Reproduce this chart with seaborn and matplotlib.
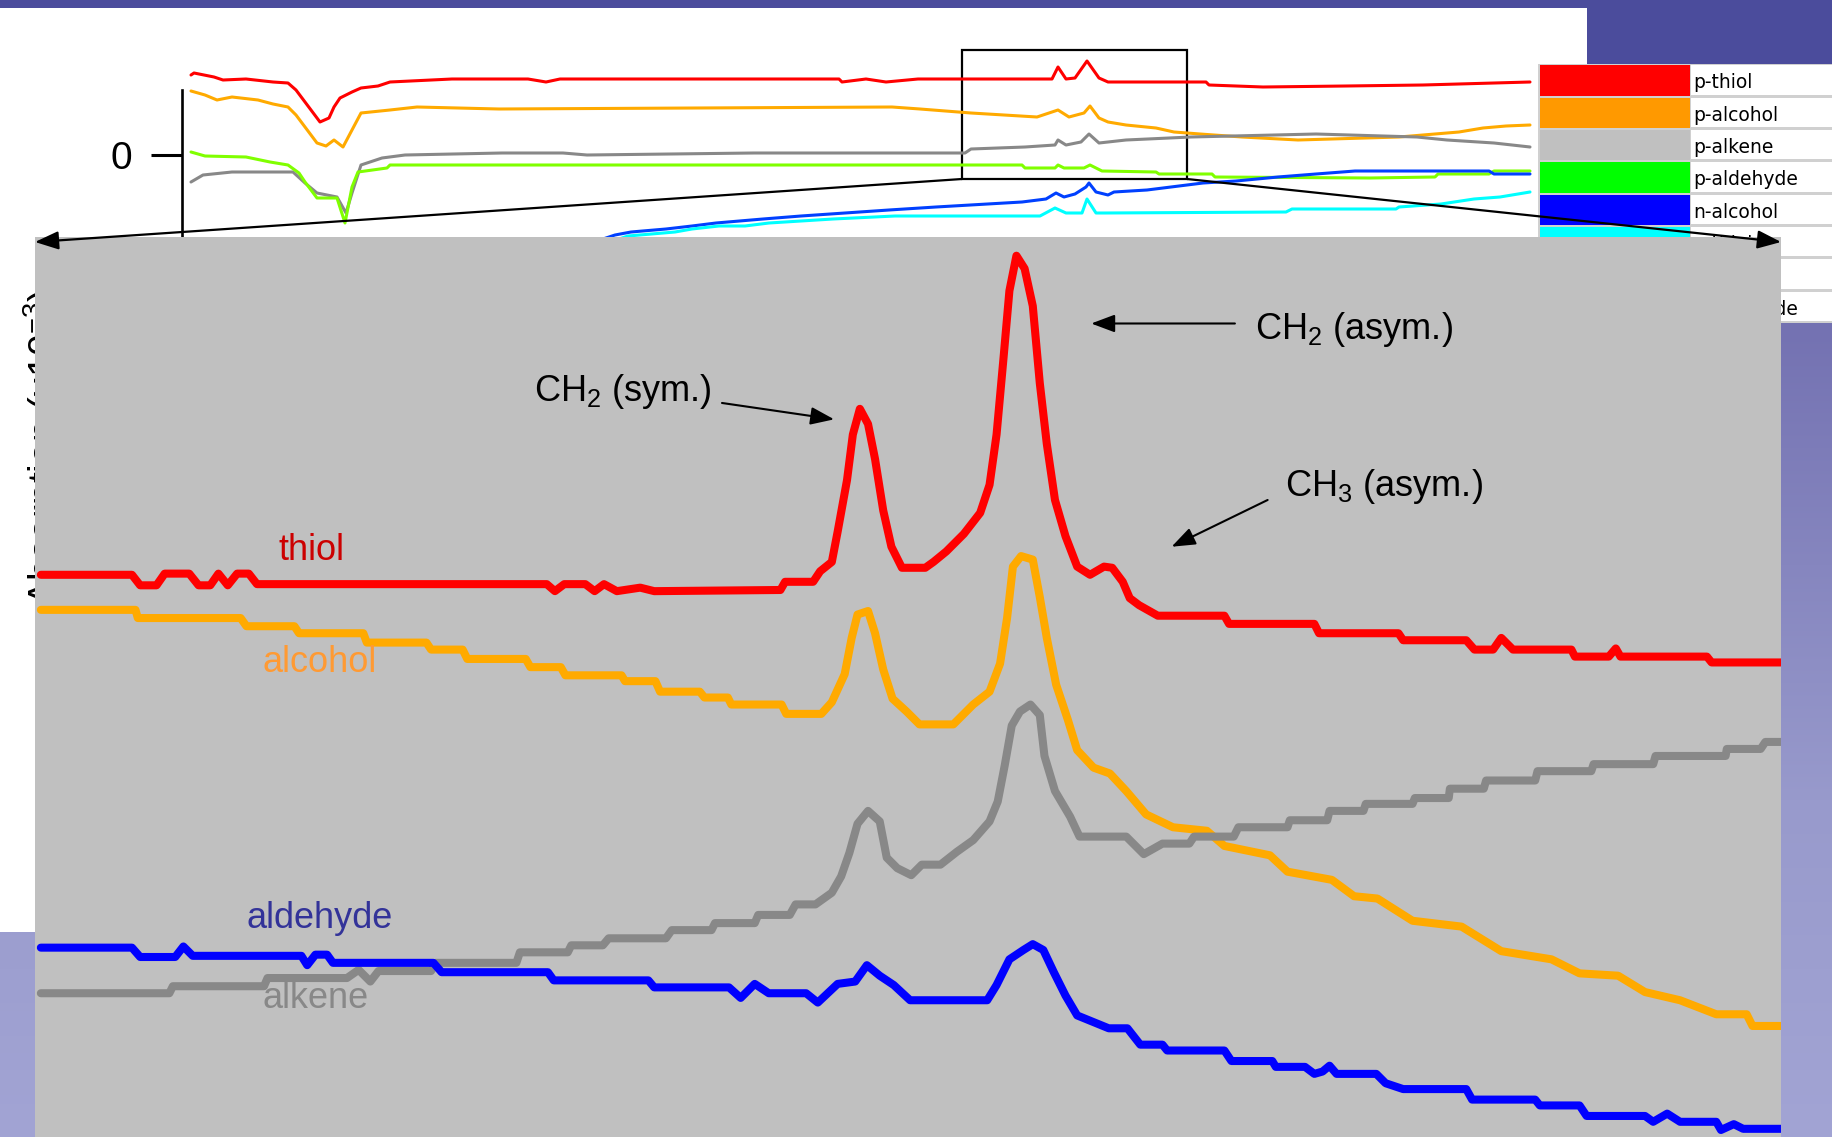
import numpy as np
import pandas as pd
import matplotlib
matplotlib.use("Agg")
import matplotlib.pyplot as plt
from matplotlib.patches import Rectangle, ConnectionPatch
import seaborn as sns

# ---- zoomed spectra, 2500-3250 cm-1 (absorbance, x10^-3, offset) ----
thiol_wn = [2502.5, 2541.5, 2545, 2552, 2555.5, 2566, 2570, 2575, 2578.5, 2582.5, 2586.5, 2591.5, 2595,
            2719, 2722.5, 2726.5, 2735.5, 2739.5, 2743.5, 2749, 2759, 2765, 2819, 2821, 2833, 2836, 2841,
            2843.5, 2847.5, 2850, 2853, 2856.5, 2859.5, 2863, 2866.5, 2871, 2881, 2884.5, 2890, 2897.5,
            2904.5, 2908.5, 2911.5, 2914.5, 2917, 2920, 2923.5, 2927, 2930, 2933, 2936.5, 2941, 2946,
            2951.5, 2957.5, 2961, 2965.5, 2968.5, 2972.5, 2980.5, 3009, 3011, 3047.5, 3049.5, 3083.5,
            3085.5, 3112.5, 3116, 3124, 3127.5, 3132.5, 3157.5, 3159, 3173.5, 3176.5, 3178.5, 3215.5,
            3217.5, 3247.5]
thiol_abs = [4.81, 4.81, 4.72, 4.72, 4.82, 4.82, 4.72, 4.72, 4.82, 4.72, 4.82, 4.82, 4.73,
             4.73, 4.67, 4.73, 4.73, 4.67, 4.73, 4.67, 4.70, 4.67, 4.68, 4.75, 4.75, 4.84, 4.92,
             5.18, 5.62, 6.01, 6.23, 6.10, 5.80, 5.36, 5.05, 4.87, 4.87, 4.92, 5.01, 5.16,
             5.34, 5.58, 6.01, 6.67, 7.24, 7.54, 7.43, 7.11, 6.45, 5.93, 5.45, 5.14, 4.88,
             4.81, 4.88, 4.87, 4.75, 4.61, 4.55, 4.46, 4.46, 4.39, 4.39, 4.31, 4.31,
             4.25, 4.25, 4.17, 4.17, 4.27, 4.17, 4.17, 4.11, 4.11, 4.18, 4.11, 4.11,
             4.06, 4.06]

alcohol_wn = [2502.5, 2543, 2544, 2588, 2590.5, 2611, 2613, 2640.5, 2642, 2667.5, 2669.5, 2683, 2685,
              2710, 2712, 2725, 2727, 2751, 2752.5, 2765.5, 2767.5, 2784.5, 2786.5, 2796.5, 2798,
              2819.5, 2821.5, 2836.5, 2841, 2846.5, 2849.5, 2852, 2856.5, 2859.5, 2863, 2867, 2873,
              2878.5, 2893, 2901.5, 2908.5, 2913, 2916, 2918.5, 2922, 2927, 2930, 2933, 2937, 2942,
              2946, 2953, 2960, 2967, 2975.5, 2987, 3001.5, 3009, 3028.5, 3036, 3055, 3064.5, 3074.5,
              3089.5, 3110.5, 3127.5, 3149, 3161, 3177.5, 3189, 3204, 3219.5, 3232.5, 3235, 3247.5]
alcohol_abs = [4.51, 4.51, 4.44, 4.44, 4.37, 4.37, 4.31, 4.31, 4.23, 4.23, 4.17, 4.17, 4.09,
               4.09, 4.02, 4.02, 3.95, 3.95, 3.90, 3.90, 3.81, 3.81, 3.76, 3.76, 3.70,
               3.70, 3.62, 3.62, 3.72, 3.96, 4.27, 4.47, 4.50, 4.31, 4.00, 3.75, 3.64,
               3.53, 3.53, 3.70, 3.81, 4.05, 4.44, 4.88, 4.97, 4.94, 4.62, 4.27, 3.87, 3.57,
               3.31, 3.16, 3.11, 2.96, 2.76, 2.65, 2.62, 2.49, 2.41, 2.27, 2.20, 2.06, 2.04,
               1.85, 1.80, 1.59, 1.52, 1.40, 1.38, 1.24, 1.17, 1.05, 1.05, 0.95, 0.95]

alkene_wn = [2502.5, 2557.5, 2559, 2598, 2599.5, 2633.5, 2638.5, 2643.5, 2647, 2669.5, 2671.5, 2706,
             2707.5, 2728, 2729.5, 2743, 2745.5, 2770, 2772.5, 2789.5, 2791, 2808, 2809.5, 2823,
             2825.5, 2834, 2841, 2845, 2848.5, 2852, 2856.5, 2861.5, 2864.5, 2869, 2875, 2879.5,
             2887.5, 2894.5, 2901.5, 2908.5, 2912, 2915, 2918, 2921.5, 2926, 2930, 2932, 2936.5,
             2943, 2947, 2967, 2974.5, 2982.5, 2994, 2996, 3013, 3015, 3036, 3037, 3053, 3054,
             3068.5, 3069.5, 3089.5, 3090.5, 3105, 3105.5, 3120, 3121, 3142, 3143, 3166, 3167,
             3192.5, 3193.5, 3223.5, 3224, 3238.5, 3240.5, 3247.5]
alkene_abs = [1.23, 1.23, 1.29, 1.29, 1.36, 1.36, 1.43, 1.33, 1.42, 1.42, 1.49, 1.49,
              1.58, 1.58, 1.64, 1.64, 1.70, 1.70, 1.77, 1.77, 1.83, 1.83, 1.90, 1.90,
              1.99, 1.99, 2.09, 2.23, 2.43, 2.68, 2.79, 2.70, 2.39, 2.30, 2.24, 2.33,
              2.33, 2.44, 2.54, 2.70, 2.87, 3.18, 3.52, 3.64, 3.70, 3.61, 3.26, 2.96,
              2.74, 2.57, 2.57, 2.42, 2.51, 2.51, 2.57, 2.57, 2.65, 2.65, 2.71, 2.71, 2.79,
              2.79, 2.85, 2.85, 2.90, 2.90, 2.98, 2.98, 3.05, 3.05, 3.13, 3.13, 3.19,
              3.19, 3.26, 3.26, 3.32, 3.32, 3.38, 3.38]

aldehyde_wn = [2502.5, 2541.5, 2545, 2560, 2563.5, 2567.5, 2614, 2616.5, 2620, 2625, 2627.5, 2670.5,
               2674, 2719.5, 2722, 2762.5, 2765, 2797, 2802, 2808, 2814, 2830, 2835, 2843.5, 2851,
               2856, 2861.5, 2867.5, 2874.5, 2907.5, 2911.5, 2917, 2923, 2927, 2931.5, 2936, 2941,
               2946, 2959.5, 2967.5, 2973, 2982.5, 2984.5, 3009, 3012, 3029.5, 3031, 3043.5, 3047.5,
               3051, 3054, 3057, 3074, 3078, 3085.5, 3112.5, 3115, 3142, 3144, 3161, 3164, 3189,
               3192.5, 3198.5, 3204, 3219.5, 3221.5, 3227, 3231, 3247.5]
aldehyde_abs = [1.62, 1.62, 1.54, 1.54, 1.63, 1.55, 1.55, 1.47, 1.56, 1.56, 1.49, 1.49,
                1.41, 1.41, 1.34, 1.34, 1.28, 1.28, 1.19, 1.31, 1.23, 1.23, 1.15, 1.31, 1.33,
                1.47, 1.38, 1.30, 1.17, 1.17, 1.30, 1.52, 1.60, 1.65, 1.60, 1.41, 1.21,
                1.04, 0.93, 0.93, 0.79, 0.79, 0.74, 0.74, 0.65, 0.65, 0.60, 0.60, 0.54,
                0.56, 0.61, 0.54, 0.54, 0.46, 0.41, 0.41, 0.32, 0.32, 0.27, 0.27, 0.18, 0.18,
                0.13, 0.20, 0.13, 0.13, 0.06, 0.11, 0.07, 0.07]

spectra_names = ["thiol", "alcohol", "alkene", "aldehyde"]
spectra_colors = ["#FF0000", "#FFAA00", "#888888", "#0000FF"]
label_colors = ["#CC0000", "#FF9A33", "#888888", "#333399"]

# ---- overview traces (scan point, signal) ----
ov_thiol_pt = [9, 12, 32, 41, 64, 91, 106, 114, 120, 129, 138, 147, 152, 158, 170, 179, 196, 208, 270, 346,
               364, 378, 657, 660, 684, 704, 736, 870, 876, 884, 893, 905, 917, 926, 1024, 1027, 1081,
               1164, 1241, 1348]
ov_thiol_sig = [8.0, 8.2, 7.8, 7.5, 7.6, 7.3, 7.2, 6.5, 5.7, 4.5, 3.3, 3.7, 4.8, 5.7, 6.3, 6.7, 6.9, 7.3, 7.6, 7.6,
                7.3, 7.6, 7.6, 7.3, 7.6, 7.3, 7.6, 7.6, 8.8, 7.6, 7.7, 9.4, 7.7, 7.3, 7.3, 7.0, 6.8,
                6.9, 7.0, 7.3]
ov_alcohol_pt = [9, 23, 35, 50, 76, 91, 106, 114, 123, 135, 144, 152, 161, 170, 179, 208, 235, 317, 710, 738,
                 789, 855, 876, 887, 902, 908, 917, 926, 944, 974, 992, 1018, 1060, 1116, 1217, 1241,
                 1277, 1301, 1324, 1348]
ov_alcohol_sig = [6.4, 6.0, 5.5, 5.8, 5.5, 5.1, 4.8, 4.0, 2.8, 1.2, 0.9, 1.5, 0.8, 2.5, 4.2, 4.5, 4.8, 4.6, 4.8, 4.6,
                  4.2, 3.8, 4.5, 3.8, 4.2, 4.9, 3.7, 3.3, 3.0, 2.7, 2.3, 2.1, 1.8, 1.5, 1.8, 2.0,
                  2.3, 2.7, 2.9, 3.0]
ov_alkene_pt = [9, 21, 50, 111, 123, 135, 155, 164, 170, 179, 200, 223, 320, 381, 405, 572, 738, 783, 789,
                843, 873, 876, 884, 899, 907, 917, 944, 1009, 1134, 1235, 1265, 1312, 1348]
ov_alkene_sig = [-2.7, -2.0, -1.7, -1.7, -2.8, -3.8, -4.2, -5.8, -3.8, -1.0, -0.3, 0.0, 0.2, 0.2, 0.0, 0.2, 0.2,
                 0.2, 0.6, 0.8, 1.0, 1.5, 1.0, 1.3, 2.1, 1.2, 1.5, 1.8, 2.1, 1.8, 1.5, 1.2, 0.8]
ov_aldehyde_pt = [9, 23, 64, 88, 106, 117, 123, 135, 155, 163, 170, 176, 205, 208, 840, 843, 873, 876, 882,
                  902, 908, 920, 974, 977, 1030, 1033, 1188, 1253, 1256, 1307, 1312, 1348]
ov_aldehyde_sig = [0.3, -0.1, -0.2, -0.7, -1.0, -1.8, -2.7, -4.3, -4.3, -6.8, -3.2, -1.7, -1.3, -1.0, -1.0,
                   -1.3, -1.3, -1.0, -1.3, -1.3, -1.0, -1.6, -1.7, -1.9, -1.9, -2.2, -2.3, -2.2, -1.9,
                   -1.9, -1.6, -1.6]
ov_nalcohol_pt = [418, 433, 449, 484, 510, 534, 581, 619, 663, 707, 754, 840, 864, 874, 882, 893, 904, 907,
                  914, 926, 932, 965, 989, 1021, 1054, 1096, 1134, 1173, 1307, 1312, 1348]
ov_nalcohol_sig = [-8.5, -8.0, -7.7, -7.4, -7.1, -6.8, -6.4, -6.1, -5.8, -5.5, -5.2, -4.7, -4.4, -3.8, -4.2,
                   -3.9, -3.2, -2.8, -3.7, -4.0, -3.7, -3.5, -3.2, -2.8, -2.6, -2.2, -1.9, -1.6, -1.6,
                   -1.9, -1.9]
ov_nthiol_pt = [428, 446, 493, 510, 537, 563, 587, 651, 713, 858, 873, 884, 900, 905, 914, 923, 1104, 1110,
                1214, 1217, 1259, 1292, 1318, 1348]
ov_nthiol_sig = [-8.7, -8.1, -7.7, -7.4, -7.1, -7.1, -6.8, -6.4, -6.1, -6.1, -5.3, -5.8, -5.8, -4.4, -5.8,
                 -5.8, -5.7, -5.4, -5.4, -5.2, -4.9, -4.4, -4.2, -3.7]

ov_names = ["p-thiol", "p-alcohol", "p-alkene", "p-aldehyde", "n-alcohol", "n-thiol"]
ov_colors = ["#FF0000", "#FFAA00", "#888888", "#80FF00", "#0040FF", "#00FFFF"]

legend_labels = ["p-thiol", "p-alcohol", "p-alkene", "p-aldehyde", "n-alcohol", "n-thiol", "n-alkene", "n-aldehyde"]
legend_colors = ["#FF0000", "#FF9900", "#C0C0C0", "#00FF00", "#0000FF", "#00FFFF", "#808080", "#FF00FF"]

# ---- build frames ----
spec = pd.concat([
    pd.DataFrame({"wavenumber": w, "absorbance": a, "sample": n})
    for n, w, a in zip(spectra_names,
                       [thiol_wn, alcohol_wn, alkene_wn, aldehyde_wn],
                       [thiol_abs, alcohol_abs, alkene_abs, aldehyde_abs])
])
ov = pd.concat([
    pd.DataFrame({"pt": p, "signal": s, "trace": n})
    for n, p, s in zip(ov_names,
                       [ov_thiol_pt, ov_alcohol_pt, ov_alkene_pt, ov_aldehyde_pt, ov_nalcohol_pt, ov_nthiol_pt],
                       [ov_thiol_sig, ov_alcohol_sig, ov_alkene_sig, ov_aldehyde_sig, ov_nalcohol_sig, ov_nthiol_sig])
])

W, H = 1832, 1137
def fx(px):
    return px / W
def fy(py):
    return 1 - py / H

sns.set_theme(style="white")
plt.rcParams["font.family"] = ["Liberation Sans", "DejaVu Sans"]
plt.rcParams["mathtext.fontset"] = "custom"
plt.rcParams["mathtext.rm"] = "Liberation Sans"
plt.rcParams["mathtext.it"] = "Liberation Sans"

fig = plt.figure(figsize=(W / 100, H / 100), dpi=100)

# slide background gradient
bg = fig.add_axes([0, 0, 1, 1], zorder=-3)
rows = np.arange(H)
stop_y = [0, 64, 330, 800, 1137]
stop_c = [(75, 76, 156), (75, 76, 156), (116, 114, 178), (152, 154, 204), (162, 164, 212)]
img = np.stack([np.interp(rows, stop_y, [c[i] for c in stop_c]) for i in range(3)], axis=-1)[:, None, :] / 255
bg.imshow(img, aspect="auto", extent=[0, 1, 0, 1])
bg.set_axis_off()

# white picture area behind the overview
fig.add_artist(Rectangle((0, fy(932)), fx(1587), fy(8) - fy(932), transform=fig.transFigure,
                         facecolor="white", edgecolor="none", zorder=-2))

# ---- overview plot ----
ax_ov = fig.add_axes([fx(182), fy(237), fx(1538) - fx(182), fy(40) - fy(237)], zorder=0)
ax_ov.set_facecolor("none")
sns.lineplot(data=ov, x="pt", y="signal", hue="trace", hue_order=ov_names,
             palette=dict(zip(ov_names, ov_colors)), linewidth=2.2, legend=False,
             estimator=None, sort=False, ax=ax_ov)
ax_ov.set_xlim(0, 1356)
ax_ov.set_ylim(-8.2, 11.5)
for s in ["top", "right", "bottom"]:
    ax_ov.spines[s].set_visible(False)
ax_ov.spines["left"].set_bounds(-8.2, 6.5)
ax_ov.spines["left"].set_linewidth(1.9)
ax_ov.spines["left"].set_color("black")
ax_ov.set_xticks([])
ax_ov.set_yticks([0])
ax_ov.set_yticklabels(["0"])
ax_ov.tick_params(axis="y", left=True, length=22, width=2.2, pad=14, labelsize=28, colors="black")
ax_ov.set_xlabel("")
ax_ov.set_ylabel("")
ax_ov.add_patch(Rectangle((780, -2.4), 225, 12.9, fill=False, lw=1.6, ec="black", clip_on=False))

# ---- legend table ----
top, pitch = 64.5, 32.3
fig.add_artist(Rectangle((fx(1538), fy(top + 8 * pitch)), 1 - fx(1538), fy(top) - fy(top + 8 * pitch),
                         transform=fig.transFigure, facecolor="#D0D0D0", edgecolor="none", zorder=1))
for i, (lab, col) in enumerate(zip(legend_labels, legend_colors)):
    y0 = top + i * pitch
    fig.add_artist(Rectangle((fx(1540), fy(y0 + pitch - 1)), fx(1690) - fx(1540), fy(y0 + 1) - fy(y0 + pitch - 1),
                             transform=fig.transFigure, facecolor=col, edgecolor="none", zorder=1.1))
    fig.add_artist(Rectangle((fx(1691), fy(y0 + pitch - 2)), 1 - fx(1691), fy(y0 + 1) - fy(y0 + pitch - 2),
                             transform=fig.transFigure, facecolor="white", edgecolor="none", zorder=1.1))
    fig.text(fx(1693), fy(y0 + 24), lab, ha="left", va="baseline", fontsize=13.5,
             family="DejaVu Sans", color="black", zorder=1.2)

# y axis title of the zoomed plot, mostly hidden behind it
fig.text(fx(57), fy(447), "Absorption (x10$^{-3}$)", rotation=90, rotation_mode="anchor",
         ha="center", va="baseline", fontsize=28, color="black", zorder=1.5)

# ---- zoomed plot ----
ax = fig.add_axes([fx(35), 0, fx(1781) - fx(35), fy(237)], zorder=2)
ax.set_facecolor("#C0C0C0")
sns.lineplot(data=spec, x="wavenumber", y="absorbance", hue="sample", hue_order=spectra_names,
             palette=dict(zip(spectra_names, spectra_colors)), linewidth=5.8, legend=False,
             estimator=None, sort=False, ax=ax)
ax.set_xlim(2500, 3247.2)
ax.set_ylim(0, 7.70)
ax.set_xticks([])
ax.set_yticks([])
ax.set_xlabel("")
ax.set_ylabel("")
for s in ax.spines.values():
    s.set_visible(False)

label_pos = [(2604, 4.94), (2597.5, 3.98), (2597.5, 1.10), (2590.5, 1.79)]
for name, col, (lx, ly) in zip(spectra_names, label_colors, label_pos):
    ax.text(lx, ly, name, color=col, fontsize=26, ha="left", va="baseline")

arrow_kw = dict(arrowstyle="-|>,head_length=0.8,head_width=0.3", mutation_scale=18,
                lw=1.5, color="black", shrinkA=0, shrinkB=0)
ax.annotate("", xy=(2952, 6.96), xytext=(3013.5, 6.96), arrowprops=arrow_kw)
ax.text(3022, 6.83, "CH$_2$ (asym.)", fontsize=26, ha="left", va="baseline", color="black")
ax.annotate("", xy=(2842, 6.14), xytext=(2794, 6.28), arrowprops=arrow_kw)
ax.text(2713.5, 6.30, "CH$_2$ (sym.)", fontsize=26, ha="left", va="baseline", color="black")
ax.annotate("", xy=(2986.4, 5.05), xytext=(3027.5, 5.45), arrowprops=arrow_kw)
ax.text(3035, 5.48, "CH$_3$ (asym.)", fontsize=26, ha="left", va="baseline", color="black")

# zoom connectors from overview window to zoomed plot
for corner, target in [((780, -2.4), (0.0, 1 - 5 / 900)), ((1005, -2.4), (1.0, 1 - 5 / 900))]:
    con = ConnectionPatch(xyA=corner, coordsA="data", axesA=ax_ov,
                          xyB=target, coordsB="axes fraction", axesB=ax,
                          arrowstyle="-|>,head_length=0.9,head_width=0.35", mutation_scale=16,
                          lw=1.6, color="black", zorder=5)
    fig.add_artist(con)

fig.savefig("out.png", dpi=100)
